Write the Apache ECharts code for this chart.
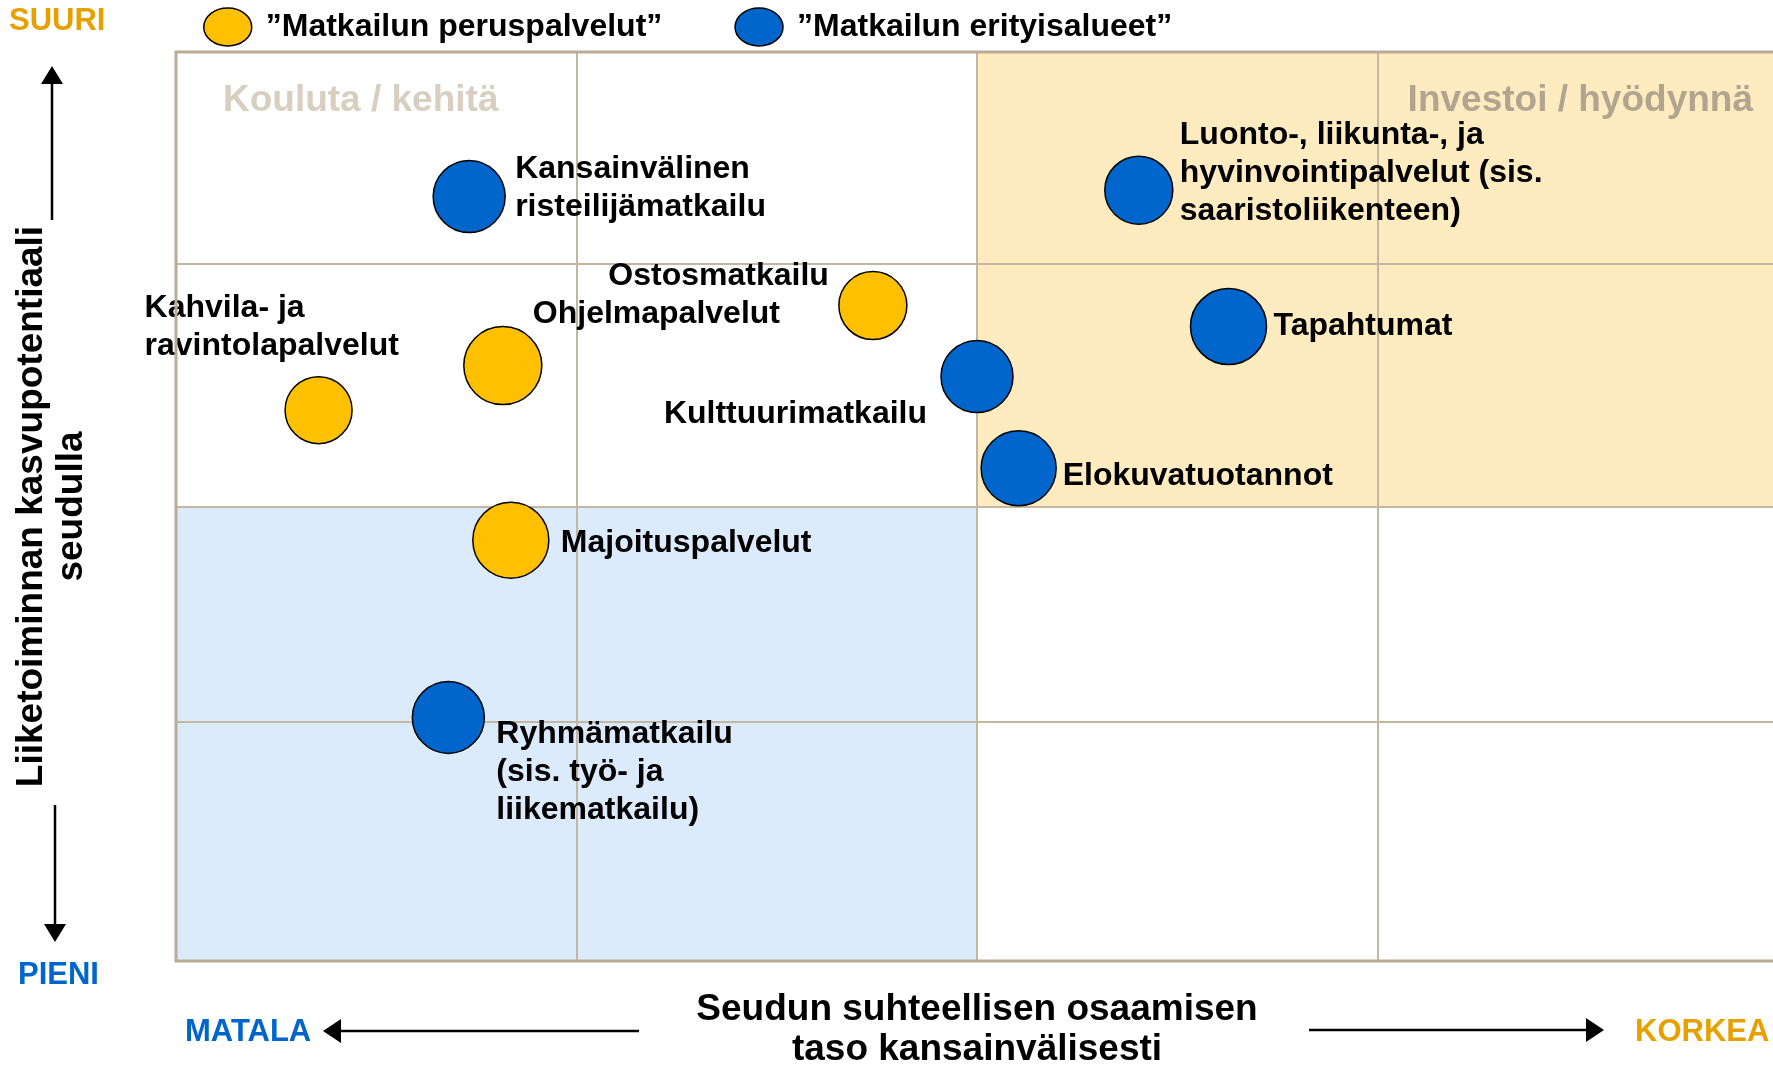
<!DOCTYPE html>
<html>
<head>
<meta charset="utf-8">
<script src="https://cdn.jsdelivr.net/npm/echarts@6/dist/echarts.min.js"></script>
<style>
html,body{margin:0;padding:0;background:#ffffff;}
#chart{width:1773px;height:1065px;}
</style>
</head>
<body>
<div id="chart"></div>
<script>
// ---------- DATA ----------
const basicSeriesName = '”Matkailun peruspalvelut”';
const specialSeriesName = '”Matkailun erityisalueet”';

const basicNames = ['Kahvila- ja\nravintolapalvelut', 'Ohjelmapalvelut', 'Ostosmatkailu', 'Majoituspalvelut'];
const basicX = [8.9, 20.4, 43.5, 20.9];
const basicY = [60.6, 65.5, 72.1, 46.3];
const basicWeight = [67, 78, 68, 76];

const specialNames = [
  'Kansainvälinen\nristeilijämatkailu',
  'Luonto-, liikunta-, ja\nhyvinvointipalvelut (sis.\nsaaristoliikenteen)',
  'Tapahtumat',
  'Kulttuurimatkailu',
  'Elokuvatuotannot',
  'Ryhmämatkailu\n(sis. työ- ja\nliikematkailu)'
];
const specialX = [18.3, 60.1, 65.7, 50.0, 52.6, 17.0];
const specialY = [84.1, 84.8, 69.8, 64.3, 54.2, 26.8];
const specialWeight = [72, 68, 76, 72, 75, 72];

// quadrant / grid boundaries (axis values)
const xSplit = 50;
const ySplit = 50;
const hLines = [26.3, 50, 76.7];

// ---------- LAYOUT (label anchors relative to bubble centre: dx, dy, align) ----------
const basicLabelPos = [[-174, -83, 'left'], [30, -51, 'left'], [-44, -29, 'right'], [50, 3, 'left']];
const specialLabelPos = [[46, -8, 'left'], [41, -17, 'left'], [45, 0, 'left'], [-50, 38, 'right'], [44, 8, 'left'], [48, 55, 'left']];

const FONT = '"Liberation Sans", Arial, Helvetica, sans-serif';
const GRID_COLOR = '#C3B7A4';

function makeData(names, xs, ys, ws, pos) {
  return names.map((n, i) => ({
    name: n,
    value: [xs[i], ys[i], ws[i]],
    label: { offset: [pos[i][0], pos[i][1]], align: pos[i][2] }
  }));
}

const bubbleLabel = {
  show: true,
  position: 'inside',
  formatter: '{b}',
  color: '#000',
  fontSize: 32,
  fontWeight: 'bold',
  fontFamily: FONT,
  lineHeight: 38,
  verticalAlign: 'middle',
  textBorderWidth: 0
};

function txt(text, x, y, size, color, align) {
  return {
    type: 'text', silent: true, z: 10,
    style: {
      text: text, x: x, y: y,
      fill: color, fontSize: size, fontWeight: 'bold', fontFamily: FONT,
      align: align, textAlign: align, verticalAlign: 'middle', textVerticalAlign: 'middle'
    }
  };
}
function seg(x1, y1, x2, y2) {
  return { type: 'line', silent: true, z: 10, shape: { x1, y1, x2, y2 }, style: { stroke: '#000', lineWidth: 2.5 } };
}
function tri(points) {
  return { type: 'polygon', silent: true, z: 10, shape: { points }, style: { fill: '#000' } };
}

const chart = echarts.init(document.getElementById('chart'), null, { renderer: 'canvas' });

const option = {
  animation: false,
  backgroundColor: '#ffffff',
  textStyle: { fontFamily: FONT },
  grid: {
    left: 176, top: 52, width: 1602, height: 909,
    show: true, borderColor: '#B9AC97', borderWidth: 3, backgroundColor: 'transparent',
    z: 4, containLabel: false, outerBoundsMode: 'none'
  },
  legend: {
    data: [basicSeriesName, specialSeriesName],
    left: 203, top: 7, padding: 0,
    itemWidth: 48, itemHeight: 38, itemGap: 72,
    icon: 'path://M0,19a24,19 0 1,0 48,0a24,19 0 1,0 -48,0z',
    itemStyle: { borderColor: '#000', borderWidth: 1.5 },
    selectedMode: false,
    textStyle: { fontSize: 32, fontWeight: 'bold', color: '#000', fontFamily: FONT, lineHeight: 38, padding: [2, 0, 0, 9] }
  },
  xAxis: {
    type: 'value', min: 0, max: 100, interval: 25, z: 2,
    axisLine: { show: false }, axisTick: { show: false }, axisLabel: { show: false },
    splitLine: { show: true, lineStyle: { color: GRID_COLOR, width: 2 } },
    name: 'Seudun suhteellisen osaamisen\ntaso kansainvälisesti',
    nameLocation: 'middle', nameGap: 29,
    nameTextStyle: { fontSize: 37, fontWeight: 'bold', color: '#000', lineHeight: 40, fontFamily: FONT }
  },
  yAxis: {
    type: 'value', min: 0, max: 100, z: 2,
    axisLine: { show: false }, axisTick: { show: false }, axisLabel: { show: false },
    splitLine: { show: false },
    name: 'Liiketoiminnan kasvupotentiaali\nseudulla',
    nameLocation: 'middle', nameRotate: 90, nameGap: 84,
    nameTextStyle: { fontSize: 37, fontWeight: 'bold', color: '#000', lineHeight: 40, fontFamily: FONT }
  },
  series: [
    {
      name: 'bg', type: 'line', data: [], silent: true,
      markArea: {
        silent: true, z: 1, label: { show: false },
        data: [
          [{ xAxis: xSplit, yAxis: ySplit, itemStyle: { color: '#FFEBC0' } }, { xAxis: 100, yAxis: 100 }],
          [{ xAxis: 0, yAxis: 0, itemStyle: { color: '#DCEBFB' } }, { xAxis: xSplit, yAxis: ySplit }]
        ]
      },
      markLine: {
        silent: true, z: 2, symbol: ['none', 'none'], label: { show: false },
        lineStyle: { color: GRID_COLOR, width: 2, type: 'solid' },
        data: hLines.map(v => ({ yAxis: v }))
      }
    },
    {
      name: basicSeriesName, type: 'scatter', z: 3,
      symbol: 'circle', symbolSize: v => v[2],
      itemStyle: { color: '#FFC000', borderColor: '#000', borderWidth: 1.5, opacity: 1 },
      label: bubbleLabel,
      emphasis: { disabled: true },
      data: makeData(basicNames, basicX, basicY, basicWeight, basicLabelPos)
    },
    {
      name: specialSeriesName, type: 'scatter', z: 3,
      symbol: 'circle', symbolSize: v => v[2],
      itemStyle: { color: '#0066CC', borderColor: '#000', borderWidth: 1.5, opacity: 1 },
      label: bubbleLabel,
      emphasis: { disabled: true },
      data: makeData(specialNames, specialX, specialY, specialWeight, specialLabelPos)
    }
  ],
  graphic: [
    txt('SUURI', 9, 21, 31, '#E6A100', 'left'),
    txt('PIENI', 18, 975, 31, '#0066CC', 'left'),
    txt('MATALA', 185, 1032, 31, '#0066CC', 'left'),
    txt('KORKEA', 1635, 1032, 31, '#E6A100', 'left'),
    txt('Kouluta / kehitä', 223, 101, 37, '#D9CFC1', 'left'),
    txt('Investoi / hyödynnä', 1753, 101, 37, '#B2A58F', 'right'),
    seg(52, 220, 52, 80), tri([[52, 66], [41, 84], [63, 84]]),
    seg(55, 805, 55, 928), tri([[55, 942], [44, 924], [66, 924]]),
    seg(639, 1031, 338, 1031), tri([[323, 1031], [341, 1019], [341, 1043]]),
    seg(1309, 1030, 1590, 1030), tri([[1604, 1030], [1586, 1018], [1586, 1042]])
  ]
};
chart.setOption(option);
</script>
</body>
</html>
